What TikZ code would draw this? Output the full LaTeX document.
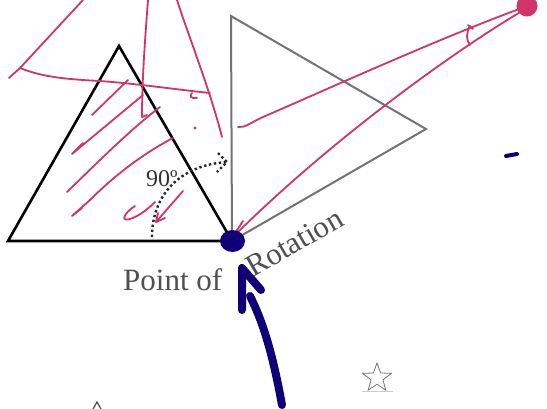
\documentclass[tikz,border=0pt]{standalone}
\usepackage{fontspec}
\setmainfont{Liberation Serif}
\usetikzlibrary{shapes.geometric}
\definecolor{inkpink}{RGB}{208,52,104}
\definecolor{inkblue}{RGB}{16,0,120}
\definecolor{labgray}{RGB}{80,80,80}
\tikzset{
  pinkstroke/.style={draw=inkpink,line width=1.8pt,line cap=round,line join=round},
  bluestroke/.style={draw=inkblue,line width=8pt,line cap=round,line join=round},
  lab/.style={inner sep=0pt,text=labgray}
}
\begin{document}
\begin{tikzpicture}[x=1pt,y=-1pt]
\useasboundingbox (0,0) rectangle (547,408);
\fill[white] (0,0) rectangle (547,408);
% named corners
\coordinate (P) at (232,241);
\coordinate (BL) at (8,241);
\coordinate (BT) at (119,46);
\coordinate (GT) at (231,16);
\coordinate (GR) at (426,129);
% triangles
\draw[black!55,line width=2pt,line join=miter] (GT) -- (GR) -- (P) -- cycle;
\draw[black,line width=2.6pt,line join=miter] (BL) -- (BT) -- (P) -- cycle;
% dotted rotation arrow
\coordinate (ds) at (152,237);
\coordinate (de) at (227,162);
\draw[black!85,line width=2.4pt,dash pattern=on 2.4pt off 2.6pt] (ds) .. controls (152,195) and (180,165) .. (de);
\draw[black!85,line width=2.4pt,dash pattern=on 2.4pt off 2.6pt] (218,153) -- (de) -- (217,172);
\node[inner sep=0pt,anchor=base west,text=black!80,font=\fontsize{24}{24}\selectfont] (deg) at (146,186) {90º};
% labels
\node[lab,anchor=base west,font=\fontsize{31}{31}\selectfont] (lpoint) at (123,290) {Point of};
\node[lab,anchor=base west,rotate=30,font=\fontsize{31}{31}\selectfont] (lrot) at (253,278) {Rotation};
% pink annotations
\draw[pinkstroke] (83,0) -- (20,68) -- (9,78);
\draw[pinkstroke] (20,68) .. controls (40,76) and (60,79) .. (100,81) .. controls (140,84) and (180,90) .. (210,93);
\draw[pinkstroke] (192,93) .. controls (189,96) and (191,99) .. (197,98);
\draw[pinkstroke] (148,0) .. controls (145,40) and (142,80) .. (142,117) -- (147,115);
\draw[pinkstroke] (177,0) .. controls (190,40) and (210,90) .. (222,137);
\draw[pinkstroke] (128,80) -- (92,115);
\draw[pinkstroke] (143,95) -- (72,154) -- (83,143);
\draw[pinkstroke] (160,107) .. controls (130,130) and (100,160) .. (67,192);
\draw[pinkstroke] (173,138) .. controls (150,150) and (120,170) .. (90,200) -- (72,216) -- (82,208);
\draw[pinkstroke] (135,206) .. controls (124,213) and (120,222) .. (130,219) .. controls (140,216) and (150,207) .. (155,202);
\draw[pinkstroke] (183,191) -- (156,222);
\draw[pinkstroke] (158,213) -- (156,222) -- (165,218);
\fill[inkpink] (195,128) circle (1.6);
% long pink lines to the far dot
\fill[inkpink] (527,6) circle (10.5);
\draw[pinkstroke] (522,8) .. controls (440,38) and (330,88) .. (263,117) .. controls (250,123) and (245,128) .. (238,127);
\draw[pinkstroke] (522,11) .. controls (440,60) and (320,150) .. (232,238);
\draw[pinkstroke] (232,238) -- (243,221);
\draw[pinkstroke] (470,26) .. controls (466,33) and (466,40) .. (470,45);
\draw[pinkstroke] (468,25) -- (473,29);
% blue point and arrow
\fill[inkblue] (232.5,241) ellipse (12.5 and 11);
\draw[bluestroke] (282,405) .. controls (272,350) and (262,320) .. (250,296);
\draw[bluestroke] (242,310) -- (242,268) -- (261,290);
\draw[inkblue,line width=4pt,line cap=round] (506,156) -- (517,154);
% star and small marks
\node[star,star points=5,star point ratio=2.4,draw=black!55,line width=0.8pt,minimum size=30pt,inner sep=0pt] (st) at (377,378) {};
\draw[black!20,line width=1pt] (362,391) -- (393,391);
\draw[black!70,line width=1.2pt] (93,409) -- (97,402) -- (101,409);
\end{tikzpicture}
\end{document}
